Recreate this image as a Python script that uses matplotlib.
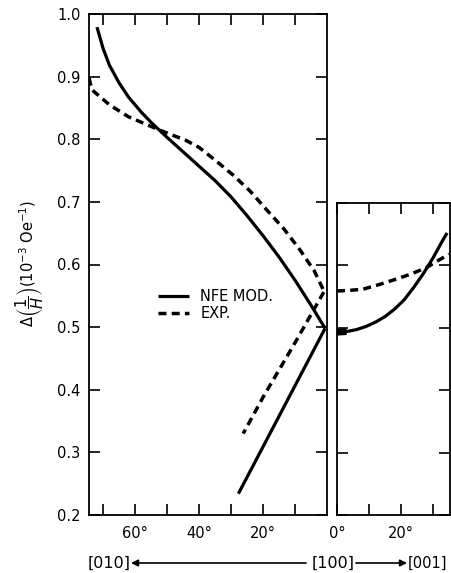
import matplotlib
matplotlib.use('Agg')
import matplotlib.pyplot as plt

# ---- data (angle in degrees from [100]) ----
nfe_upper_deg = [71.9, 70.0, 68.0, 65.0, 62.0, 58.0, 55.0, 50.0, 45.0, 40.0, 35.0, 30.0, 25.0, 20.0, 15.0, 10.0, 5.0, 0.6]
nfe_upper_val = [0.979, 0.945, 0.918, 0.890, 0.867, 0.843, 0.827, 0.803, 0.780, 0.757, 0.734, 0.708, 0.678, 0.646, 0.612, 0.575, 0.535, 0.498]
nfe_lower_deg = [0.6, 27.7]
nfe_lower_val = [0.498, 0.234]

exp_upper_deg = [74.4, 73.5, 68.0, 62.1, 54.8, 49.6, 44.4, 40.0, 35.3, 29.4, 24.0, 18.8, 13.5, 8.4, 4.0, 1.0]
exp_upper_val = [0.898, 0.879, 0.855, 0.836, 0.820, 0.809, 0.799, 0.787, 0.768, 0.743, 0.717, 0.687, 0.657, 0.623, 0.590, 0.558]
exp_lower_deg = [1.0, 10.0, 20.0, 26.2]
exp_lower_val = [0.556, 0.475, 0.388, 0.330]

nfe_right_deg = [0.0, 3.0, 6.0, 9.0, 12.0, 15.0, 18.0, 21.0, 24.0, 27.0, 30.0, 33.0, 34.4]
nfe_right_val = [0.493, 0.494, 0.497, 0.502, 0.509, 0.518, 0.530, 0.545, 0.565, 0.587, 0.612, 0.640, 0.652]
exp_right_deg = [0.0, 4.0, 8.2, 13.0, 18.5, 23.0, 27.8, 31.0, 35.0]
exp_right_val = [0.559, 0.560, 0.562, 0.569, 0.578, 0.586, 0.596, 0.606, 0.618]

left_xticks = [10, 20, 30, 40, 50, 60, 70]
left_xticklabels = ['', '20°', '', '40°', '', '60°', '']
right_xticks = [0, 10, 20, 30]
right_xticklabels = ['0°', '', '20°', '']
yticks = [0.2, 0.3, 0.4, 0.5, 0.6, 0.7, 0.8, 0.9, 1.0]
yticklabels = ['0.2', '0.3', '0.4', '0.5', '0.6', '0.7', '0.8', '0.9', '1.0']
legend_labels = ['NFE MOD.', 'EXP.']

plt.rcParams['font.family'] = ['DejaVu Sans']

W, H = 451, 573
fig = plt.figure(figsize=(W / 100, H / 100), dpi=100)
axL = fig.add_axes([89 / W, 1 - 515 / H, (327 - 89) / W, (515 - 14) / H])
axR = fig.add_axes([337 / W, 1 - 515 / H, (450 - 337) / W, (515 - 203) / H])

solid_kw = dict(color='black', lw=2.3, solid_capstyle='butt', solid_joinstyle='round')
dash_kw = dict(color='black', lw=2.5, linestyle=(0, (2.3, 1.5)), dash_capstyle='butt')

lnfe, = axL.plot(nfe_upper_deg, nfe_upper_val, **solid_kw)
axL.plot(nfe_lower_deg, nfe_lower_val, **solid_kw)
lexp, = axL.plot(exp_upper_deg, exp_upper_val, **dash_kw)
axL.plot(exp_lower_deg, exp_lower_val, **dash_kw)

axR.plot(nfe_right_deg, nfe_right_val, **solid_kw)
axR.plot(nfe_right_deg[:2], nfe_right_val[:2], color='black', lw=5, solid_capstyle='butt')
axR.plot(exp_right_deg, exp_right_val, **dash_kw)

axL.set_xlim(74.4, 0)
axL.set_ylim(0.2, 1.0)
axR.set_xlim(0, 35.3)
axR.set_ylim(0.2, 0.7)

for ax in (axL, axR):
    for s in ax.spines.values():
        s.set_linewidth(1.3)
    ax.tick_params(direction='in', length=8, width=1.2, top=True, right=True,
                   labelsize=10.5, pad=6)

axL.set_xticks(left_xticks)
axL.set_xticklabels(left_xticklabels)
axL.set_yticks(yticks)
axL.set_yticklabels(yticklabels)
axL.tick_params(axis='x', pad=8)

axR.set_xticks(right_xticks)
axR.set_xticklabels(right_xticklabels)
axR.set_yticks(yticks[:6])
axR.set_yticklabels([])
axR.tick_params(axis='x', pad=8)

axL.legend([lnfe, lexp], legend_labels, loc='center left',
           bbox_to_anchor=((158 - 89) / 238, (515 - 305) / 501),
           frameon=False, borderpad=0, borderaxespad=0, handlelength=2.1,
           handletextpad=0.8, labelspacing=0.15, fontsize=10.5)

fig.text(30 / W, 1 - 263 / H,
         r'$\Delta\left(\dfrac{1}{H}\right)$(10$^{-3}$ Oe$^{-1}$)',
         rotation=90, ha='center', va='center', fontsize=10.5)

ybot = 1 - 563 / H
fig.text(88 / W, ybot, '[010]', ha='left', va='center', fontsize=11.5)
fig.text(333 / W, ybot, '[100]', ha='center', va='center', fontsize=11.5)
fig.text(408 / W, ybot, '[001]', ha='left', va='center', fontsize=10.5)
axL.annotate('', xy=(131 / W, ybot), xytext=(306 / W, ybot), xycoords='figure fraction',
             textcoords='figure fraction', annotation_clip=False,
             arrowprops=dict(arrowstyle='-|>', color='black', lw=1.2, mutation_scale=10,
                             shrinkA=0, shrinkB=0))
axL.annotate('', xy=(407 / W, ybot), xytext=(356 / W, ybot), xycoords='figure fraction',
             textcoords='figure fraction', annotation_clip=False,
             arrowprops=dict(arrowstyle='-|>', color='black', lw=1.2, mutation_scale=10,
                             shrinkA=0, shrinkB=0))

fig.savefig('out.png', dpi=100)
